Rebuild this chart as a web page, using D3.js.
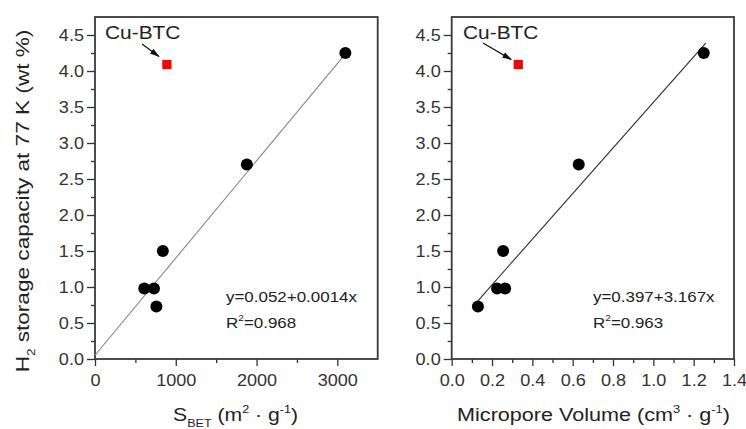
<!DOCTYPE html>
<html>
<head>
<meta charset="utf-8">
<script src="https://cdn.jsdelivr.net/npm/d3@7"></script>
<style>
  body { margin: 0; background: #fff; }
  svg { display: block; font-family: "Liberation Sans", Arial, sans-serif; }
</style>
</head>
<body>
<svg id="chart" width="746" height="429"></svg>
<script>
width = 746;
height = 429;

// data
h2Capacity = [0.73, 0.98, 0.98, 1.50, 2.70, 4.25];
sBet = [760, 610, 730, 840, 1880, 3100];
microVolume = [0.13, 0.225, 0.265, 0.255, 0.63, 1.25];

cuBtcCapacity = 4.09;
cuBtcSBet = 890;
cuBtcVolume = 0.33;

// linear fits (the drawn line, and the printed equation)
betFit = {a: 0.052, b: 0.00135, from: 0, to: 3100};
volFit = {a: 0.397, b: 3.167, from: 0.13, to: 1.26};
betEq = ['y=0.052+0.0014x', '0.968'];
volEq = ['y=0.397+3.167x', '0.963'];

yTicks = [0, 0.5, 1, 1.5, 2, 2.5, 3, 3.5, 4, 4.5];
betTicks = [0, 1000, 2000, 3000];
volTicks = [0, 0.2, 0.4, 0.6, 0.8, 1.0, 1.2, 1.4];

STRETCH = 1.13;   // the picture is a bit wide, text is stretched to match
INK = '#333';

svg = d3.select('#chart');

y = d3.scaleLinear().domain([0, 4.75]).range([359, 17]);

function stretchText(sel, sx){
	// scale each text horizontally around its own anchor
	sel.each(function(){
		let t = d3.select(this);
		let x = +t.attr('x') || 0;
		let yy = +t.attr('y') || 0;
		t.attr('x', 0).attr('y', 0)
			.attr('transform', `translate(${x},${yy}) scale(${sx},1)`);
	});
}

function drawPanel(opts){
	let x = d3.scaleLinear().domain(opts.domain).range(opts.range);
	let g = svg.append('g');

	// minor ticks
	g.append('g')
		.attr('transform', `translate(0,${y.range()[0]})`)
		.call(d3.axisBottom(x).tickValues(opts.minorX).tickSize(4).tickFormat(''))
		.call(a => a.select('.domain').remove());
	g.append('g')
		.attr('transform', `translate(${x.range()[0]},0)`)
		.call(d3.axisLeft(y).tickValues(d3.range(0.25, 4.75, 0.5)).tickSize(4).tickFormat(''))
		.call(a => a.select('.domain').remove());

	// major ticks + labels
	let xa = g.append('g')
		.attr('transform', `translate(0,${y.range()[0]})`)
		.call(d3.axisBottom(x).tickValues(opts.ticks).tickSize(7).tickPadding(9).tickFormat(opts.fmt));
	xa.select('.domain').remove();
	xa.selectAll('text').attr('font-size', 16).attr('fill', INK).attr('y', 16).attr('dy', '0.71em');
	stretchText(xa.selectAll('text'), STRETCH);

	let ya = g.append('g')
		.attr('transform', `translate(${x.range()[0]},0)`)
		.call(d3.axisLeft(y).tickValues(yTicks).tickSize(8).tickFormat(d3.format('.1f')));
	ya.select('.domain').remove();
	ya.selectAll('text').attr('font-size', 16).attr('fill', INK).attr('x', -11).attr('dy', '0.35em');
	stretchText(ya.selectAll('text'), STRETCH);

	g.selectAll('.tick line').attr('stroke', INK).attr('stroke-width', 1.3);

	// frame
	g.append('rect')
		.attr('x', x.range()[0]).attr('y', y.range()[1])
		.attr('width', x.range()[1] - x.range()[0])
		.attr('height', y.range()[0] - y.range()[1])
		.attr('fill', 'none').attr('stroke', '#3a3a3a').attr('stroke-width', 1.8);

	// fit line
	let f = opts.fit;
	g.append('line')
		.attr('x1', x(f.from)).attr('y1', y(f.a + f.b * f.from))
		.attr('x2', x(f.to)).attr('y2', y(f.a + f.b * f.to))
		.attr('stroke', opts.fitColor).attr('stroke-width', 1.1);

	// points
	g.selectAll('circle.pt')
		.data(opts.xs.map((v, i) => [v, h2Capacity[i]]))
		.join('circle')
		.attr('class', 'pt')
		.attr('cx', d => x(d[0])).attr('cy', d => y(d[1]))
		.attr('r', 6).attr('fill', '#000');

	// Cu-BTC outlier
	let cx = x(opts.cuX), cy = y(cuBtcCapacity);
	g.append('rect')
		.attr('x', cx - 4.6).attr('y', cy - 4.6)
		.attr('width', 9.2).attr('height', 9.2)
		.attr('fill', '#ff0000');

	let lab = g.append('text')
		.attr('x', opts.cuLabelX).attr('y', 39)
		.attr('font-size', 18.5).attr('fill', '#222')
		.text('Cu-BTC');
	stretchText(lab, STRETCH);

	let ax0 = opts.arrow[0], ay0 = opts.arrow[1];
	let ax1 = cx + opts.arrow[2], ay1 = cy + opts.arrow[3];
	g.append('line')
		.attr('x1', ax0).attr('y1', ay0).attr('x2', ax1).attr('y2', ay1)
		.attr('stroke', '#111').attr('stroke-width', 1.2)
		.attr('marker-end', 'url(#arrowhead)');

	// equation
	let eq = g.append('text')
		.attr('x', opts.eqX).attr('y', 302)
		.attr('font-size', 15).attr('fill', '#222')
		.text(opts.eq[0]);
	stretchText(eq, STRETCH);
	let r2 = g.append('text')
		.attr('x', opts.eqX).attr('y', 328)
		.attr('font-size', 15).attr('fill', '#222');
	r2.append('tspan').text('R');
	r2.append('tspan').attr('font-size', 9).attr('dy', -7).text('2');
	r2.append('tspan').attr('dy', 7).text('=' + opts.eq[1]);
	stretchText(r2, STRETCH);

	return x;
}

svg.append('defs').append('marker')
	.attr('id', 'arrowhead')
	.attr('markerWidth', 10).attr('markerHeight', 8)
	.attr('refX', 9).attr('refY', 4)
	.attr('orient', 'auto')
	.attr('markerUnits', 'userSpaceOnUse')
	.append('polygon')
	.attr('points', '0 1, 10 4, 0 7')
	.attr('fill', '#111');

drawPanel({
	domain: [0, 3500], range: [95, 377.7],
	ticks: betTicks, minorX: [500, 1500, 2500],
	fmt: d3.format('d'),
	xs: sBet, cuX: cuBtcSBet,
	fit: betFit, fitColor: '#858585',
	cuLabelX: 105, arrow: [142, 44, -8, -8],
	eq: betEq, eqX: 226
});

drawPanel({
	domain: [0, 1.4], range: [451.7, 734],
	ticks: volTicks, minorX: d3.range(0.1, 1.4, 0.2),
	fmt: d3.format('.1f'),
	xs: microVolume, cuX: cuBtcVolume,
	fit: volFit, fitColor: '#2a2a2a',
	cuLabelX: 463, arrow: [483, 43, -7, -5],
	eq: volEq, eqX: 593
});

// axis titles
function fitTo(sel, cx, cy, w, rotate){
	let len = sel.node().getComputedTextLength();
	let s = w / len;
	sel.attr('text-anchor', 'middle')
		.attr('transform', `translate(${cx},${cy})` + (rotate ? ' rotate(-90)' : '') + ` scale(${s},1)`);
}

let yt = svg.append('text').attr('font-size', 18.5).attr('fill', '#222');
yt.append('tspan').text('H');
yt.append('tspan').attr('font-size', 11).attr('dy', 6).text('2');
yt.append('tspan').attr('dy', -6).text(' storage capacity at 77 K (wt %)');
fitTo(yt, 28.5, 201, 343, true);

let xt1 = svg.append('text').attr('font-size', 18.5).attr('fill', '#222');
xt1.append('tspan').text('S');
xt1.append('tspan').attr('font-size', 11).attr('dy', 6).text('BET');
xt1.append('tspan').attr('dy', -6).text(' (m');
xt1.append('tspan').attr('font-size', 11).attr('dy', -8).text('2');
xt1.append('tspan').attr('dy', 8).text(' \u00b7 g');
xt1.append('tspan').attr('font-size', 11).attr('dy', -8).text('-1');
xt1.append('tspan').attr('dy', 8).text(')');
fitTo(xt1, 235.5, 421, 125, false);

let xt2 = svg.append('text').attr('font-size', 18.5).attr('fill', '#222');
xt2.append('tspan').text('Micropore Volume (cm');
xt2.append('tspan').attr('font-size', 11).attr('dy', -8).text('3');
xt2.append('tspan').attr('dy', 8).text(' \u00b7 g');
xt2.append('tspan').attr('font-size', 11).attr('dy', -8).text('-1');
xt2.append('tspan').attr('dy', 8).text(')');
fitTo(xt2, 593.5, 421, 273, false);
</script>
</body>
</html>
